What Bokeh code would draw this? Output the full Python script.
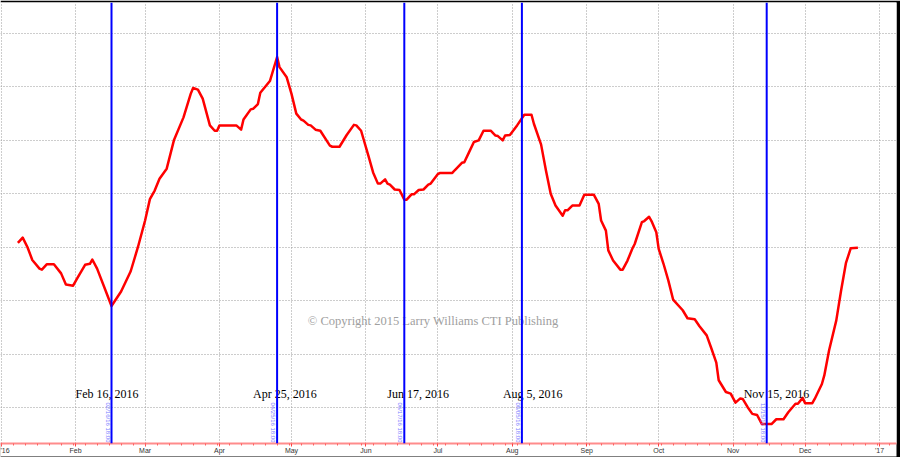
import math
import pandas as pd
from bokeh.plotting import figure
from bokeh.models import Range1d, FixedTicker, Span, ColumnDataSource
from bokeh.embed import file_html
from bokeh.resources import INLINE
from bokeh.core.properties import value

# ---------------- data ----------------
dates = [
    "2016-01-08", "2016-01-10", "2016-01-12", "2016-01-14", "2016-01-17", "2016-01-18", "2016-01-20", "2016-01-23", "2016-01-26", "2016-01-28", "2016-01-31",
    "2016-02-02", "2016-02-05", "2016-02-07", "2016-02-08", "2016-02-10", "2016-02-13", "2016-02-16", "2016-02-20", "2016-02-24", "2016-02-27",
    "2016-03-01", "2016-03-03", "2016-03-05", "2016-03-07", "2016-03-10", "2016-03-13", "2016-03-17", "2016-03-20", "2016-03-21", "2016-03-23", "2016-03-25", "2016-03-28", "2016-03-30", "2016-03-31",
    "2016-04-01", "2016-04-08", "2016-04-10", "2016-04-11", "2016-04-14", "2016-04-15", "2016-04-17", "2016-04-18", "2016-04-22", "2016-04-25", "2016-04-26", "2016-04-29",
    "2016-05-01", "2016-05-03", "2016-05-05", "2016-05-06", "2016-05-08", "2016-05-09", "2016-05-11", "2016-05-13", "2016-05-17", "2016-05-18", "2016-05-21", "2016-05-24", "2016-05-27", "2016-05-28", "2016-05-30",
    "2016-06-02", "2016-06-04", "2016-06-06", "2016-06-07", "2016-06-09", "2016-06-10", "2016-06-11", "2016-06-13", "2016-06-15", "2016-06-17", "2016-06-18", "2016-06-20", "2016-06-21", "2016-06-23", "2016-06-25", "2016-06-27", "2016-06-28",
    "2016-07-01", "2016-07-02", "2016-07-07", "2016-07-08", "2016-07-11", "2016-07-12", "2016-07-14", "2016-07-16", "2016-07-18", "2016-07-20", "2016-07-23", "2016-07-25", "2016-07-26", "2016-07-28", "2016-07-29", "2016-07-31",
    "2016-08-03", "2016-08-06", "2016-08-09", "2016-08-10", "2016-08-13", "2016-08-15", "2016-08-17", "2016-08-19", "2016-08-22", "2016-08-23", "2016-08-24", "2016-08-26", "2016-08-29", "2016-08-31",
    "2016-09-04", "2016-09-06", "2016-09-07", "2016-09-09", "2016-09-10", "2016-09-12", "2016-09-15", "2016-09-16", "2016-09-18", "2016-09-20", "2016-09-21", "2016-09-24", "2016-09-25", "2016-09-27", "2016-09-28", "2016-09-30",
    "2016-10-01", "2016-10-03", "2016-10-05", "2016-10-07", "2016-10-11", "2016-10-13", "2016-10-16", "2016-10-18", "2016-10-21", "2016-10-23", "2016-10-25", "2016-10-26", "2016-10-29", "2016-10-31",
    "2016-11-02", "2016-11-04", "2016-11-05", "2016-11-07", "2016-11-09", "2016-11-11", "2016-11-13", "2016-11-17", "2016-11-19", "2016-11-22", "2016-11-24", "2016-11-27", "2016-11-28", "2016-11-30",
    "2016-12-01", "2016-12-04", "2016-12-05", "2016-12-08", "2016-12-09", "2016-12-11", "2016-12-14", "2016-12-16", "2016-12-18", "2016-12-20", "2016-12-23",
]
values = [
    4.08, 4.18, 4.00, 3.76, 3.60, 3.58, 3.68, 3.68, 3.51, 3.30, 3.28,
    3.44, 3.67, 3.69, 3.77, 3.60, 3.25, 2.90, 3.17, 3.55, 4.00,
    4.50, 4.90, 5.06, 5.28, 5.47, 6.00, 6.43, 6.87, 6.98, 6.95, 6.78, 6.28, 6.18, 6.18,
    6.28, 6.28, 6.20, 6.39, 6.58, 6.59, 6.68, 6.89, 7.11, 7.56, 7.37, 7.18,
    6.87, 6.50, 6.39, 6.37, 6.29, 6.28, 6.20, 6.18, 5.90, 5.88, 5.88, 6.10, 6.29, 6.28, 6.18,
    5.72, 5.40, 5.19, 5.19, 5.27, 5.19, 5.17, 5.08, 5.07, 4.89, 4.89, 4.99, 4.99, 5.07, 5.08, 5.17, 5.19,
    5.37, 5.39, 5.39, 5.44, 5.58, 5.59, 5.78, 5.97, 6.00, 6.18, 6.18, 6.09, 6.08, 6.00, 6.09, 6.10,
    6.28, 6.48, 6.48, 6.31, 5.92, 5.44, 5.00, 4.78, 4.59, 4.69, 4.69, 4.78, 4.78, 4.98,
    4.98, 4.81, 4.50, 4.31, 3.94, 3.75, 3.58, 3.58, 3.75, 3.97, 4.06, 4.47, 4.49, 4.57, 4.49, 4.28,
    3.97, 3.69, 3.38, 3.02, 2.82, 2.67, 2.65, 2.52, 2.35, 2.10, 1.84, 1.51, 1.29, 1.26,
    1.09, 1.17, 1.16, 1.01, 0.88, 0.86, 0.69, 0.69, 0.78, 0.78, 0.91, 1.07, 1.07, 1.18,
    1.08, 1.08, 1.16, 1.44, 1.60, 2.07, 2.63, 3.19, 3.70, 3.98, 3.99,
]

cycle_dates = ["2016-02-16", "2016-04-25", "2016-06-17", "2016-08-05", "2016-11-15"]
cycle_labels = ["Feb 16, 2016", "Apr 25, 2016", "Jun 17, 2016", "Aug 5, 2016", "Nov 15, 2016"]
cycle_stamps = ["02/16/16 18:00", "04/25/16 18:00", "06/17/16 18:00", "08/05/16 18:00", "11/15/16 18:00"]

month_starts = ["2016-01-01", "2016-02-01", "2016-03-01", "2016-04-01", "2016-05-01", "2016-06-01",
                "2016-07-01", "2016-08-01", "2016-09-01", "2016-10-01", "2016-11-01", "2016-12-01", "2017-01-01"]
month_labels = ["'16", "Feb", "Mar", "Apr", "May", "Jun", "Jul", "Aug", "Sep", "Oct", "Nov", "Dec", "'17"]
grid_levels = [1, 2, 3, 4, 5, 6, 7, 8]

copyright_text = "\u00a9 Copyright 2015 Larry Williams CTI Publishing"

# ---------------- styling / layout constants ----------------
X_START, X_END = "2015-12-31 18:00", "2017-01-08 02:00"
Y_START, Y_END = 0.326, 8.58
LABEL_Y = 1.25
LABEL_DX = [-36, -24, -17, -19, -23]
COPY_X, COPY_Y = "2016-06-29", 2.61


def ms(s):
    return int(pd.Timestamp(s).value // 10**6)


p = figure(width=900, height=457, x_axis_type="datetime", y_axis_location=None,
           output_backend="svg", toolbar_location=None,
           x_range=Range1d(pd.Timestamp(X_START), pd.Timestamp(X_END)),
           y_range=Range1d(Y_START, Y_END),
           min_border_left=0, min_border_right=4, min_border_top=2, min_border_bottom=14)
p.outline_line_color = None
p.background_fill_color = "white"

ax = p.xaxis[0]
if "background_fill_color" in ax.properties():
    p.border_fill_color = "black"
    ax.background_fill_color = "white"
else:
    p.border_fill_color = "white"

# axis
month_ms = [ms(s) for s in month_starts]
minor_ms = [int(t.value // 10**6) for t in pd.date_range("2016-01-01", "2017-01-10", freq="5D")]
ax.ticker = FixedTicker(ticks=month_ms, minor_ticks=minor_ms)
ax.major_label_overrides = {m: l for m, l in zip(month_ms, month_labels)}
ax.axis_line_color = "#ff8c8c"
ax.axis_line_width = 2
ax.major_tick_line_color = "#ff4040"
ax.major_tick_out = 3
ax.major_tick_in = 0
ax.minor_tick_line_color = "#ff6060"
ax.minor_tick_out = 2
ax.minor_tick_in = 0
ax.major_label_text_font = "Liberation Sans"
ax.major_label_text_font_size = "7px"
ax.major_label_text_color = "#333333"
ax.major_label_standoff = 0

# grids
p.xgrid.grid_line_color = "#9a9a9a"
p.xgrid.grid_line_dash = "1 2"
p.xgrid.grid_line_width = 1
p.ygrid.ticker = FixedTicker(ticks=grid_levels)
p.ygrid.grid_line_color = "#9a9a9a"
p.ygrid.grid_line_dash = "1 2"
p.ygrid.grid_line_width = 1

# cycle lines
for d in cycle_dates:
    p.add_layout(Span(location=ms(d), dimension="height", line_color="#0000ff", line_width=2))

# main series
src = ColumnDataSource(dict(x=pd.to_datetime(dates), y=values))
p.line(x="x", y="y", source=src, line_color="#ff0000", line_width=2.5, line_join="round")

# date labels
lab = ColumnDataSource(dict(x=pd.to_datetime(cycle_dates), y=[LABEL_Y] * len(cycle_dates),
                            t=cycle_labels, dx=LABEL_DX))
p.text(x="x", y="y", text="t", x_offset="dx", source=lab,
       text_font=value("Liberation Serif"), text_font_size="12px",
       text_color="#000000", text_align="left", text_baseline="alphabetic")

# rotated stamps
st = ColumnDataSource(dict(x=pd.to_datetime(cycle_dates), y=[Y_START] * len(cycle_dates), t=cycle_stamps))
p.text(x="x", y="y", text="t", source=st, angle=-math.pi / 2,
       x_offset=-1, y_offset=-1,
       text_font=value("Liberation Sans"), text_font_size="6px",
       text_color="#7b7bff", text_align="right", text_baseline="top")

# copyright
p.text(x=[pd.Timestamp(COPY_X)], y=[COPY_Y], text=[copyright_text],
       text_font=value("Liberation Serif"), text_font_size="12.5px",
       text_color="#a0a0a0", text_align="center", text_baseline="middle")

open("out.html", "w").write(file_html(p, INLINE))
